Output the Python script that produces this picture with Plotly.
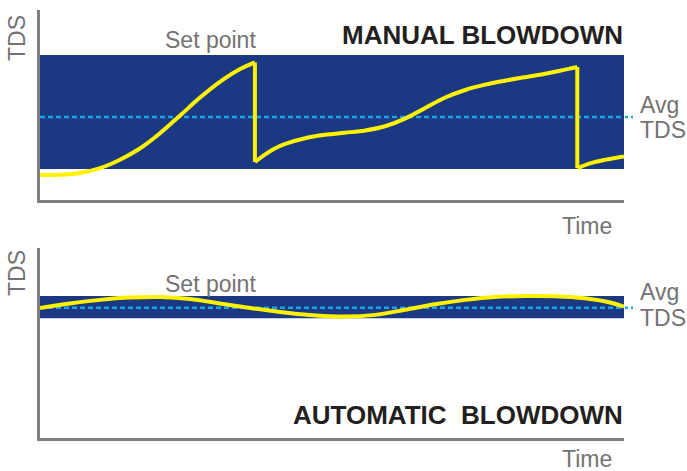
import plotly.graph_objects as go

W, H = 687, 471

# ---------------- data ----------------
# Manual blowdown (top panel): time 0-100, TDS 0-100 (arbitrary units)
manual_seg1_time = [0, 3.4, 6.8, 10.3, 13.7, 17.1, 20.5, 24.0, 27.4, 30.8, 34.2, 36.8]
manual_seg1_tds = [13.2, 13.3, 14.2, 16.8, 21.2, 27.1, 35.0, 44.5, 53.9, 62.2, 68.8, 72.4]
manual_seg2_time = [36.8, 38.5, 40.2, 42.0, 45.4, 48.8, 52.2, 55.7, 59.1, 62.5, 65.9, 69.3, 72.8,
                    76.2, 79.6, 83.0, 86.5, 89.9, 92.0]
manual_seg2_tds = [20.0, 23.9, 27.1, 29.5, 32.5, 34.3, 35.4, 36.6, 38.8, 42.8, 48.3, 53.8, 57.9,
                   60.7, 62.8, 64.6, 66.4, 68.6, 70.0]
manual_seg3_time = [92.0, 94.2, 96.7, 100]
manual_seg3_tds = [16.8, 19.3, 21.1, 22.9]
manual_band = [16.3, 76.3]
manual_avg = 43.7

# Automatic blowdown (bottom panel)
auto_time = [0, 5.1, 10.3, 15.4, 20.5, 25.7, 30.8, 36.0, 41.1, 46.2, 52.2, 57.4, 62.5, 67.6,
             72.8, 77.9, 83.0, 88.2, 93.3, 97.6, 100]
auto_tds = [68.4, 70.8, 72.7, 73.9, 74.2, 73.2, 70.8, 68.4, 66.3, 64.7, 63.9, 64.8, 67.5, 70.4,
            72.7, 74.2, 74.7, 74.6, 73.5, 71.3, 69.1]
auto_band = [63.0, 74.7]
auto_avg = 68.6

YELLOW = "#FFF200"
BLUE = "#1A3982"
DASH = "#1CA3E6"
GRAY = "#737373"
AXIS = "#808080"
DARK = "#231F20"
FONT = "Liberation Sans, Arial, sans-serif"


def px(x):
    return x / W


def py(y):
    return 1 - y / H


fig = go.Figure()

line_style = dict(color=YELLOW, width=4)

# top panel traces
for tx, ty in [(manual_seg1_time, manual_seg1_tds),
               (manual_seg2_time, manual_seg2_tds),
               (manual_seg3_time, manual_seg3_tds)]:
    fig.add_trace(go.Scatter(x=tx, y=ty, mode="lines",
                             line=dict(shape="spline", **line_style),
                             xaxis="x", yaxis="y", showlegend=False, hoverinfo="skip"))
# vertical blowdown drops
drop_x = [manual_seg1_time[-1], manual_seg2_time[0], None, manual_seg2_time[-1], manual_seg3_time[0]]
drop_y = [manual_seg1_tds[-1], manual_seg2_tds[0], None, manual_seg2_tds[-1], manual_seg3_tds[0]]
fig.add_trace(go.Scatter(x=drop_x, y=drop_y, mode="lines", line=dict(**line_style),
                         xaxis="x", yaxis="y", showlegend=False, hoverinfo="skip"))

# bottom panel trace
fig.add_trace(go.Scatter(x=auto_time, y=auto_tds, mode="lines",
                         line=dict(shape="spline", **line_style),
                         xaxis="x2", yaxis="y2", showlegend=False, hoverinfo="skip"))

axis_common = dict(showgrid=False, zeroline=False, showticklabels=False, ticks="",
                   showline=True, linecolor=AXIS, linewidth=3, fixedrange=True)

fig.update_layout(
    width=W, height=H,
    margin=dict(l=0, r=0, t=0, b=0),
    paper_bgcolor="white", plot_bgcolor="white",
    xaxis=dict(domain=[px(40), px(624)], range=[0, 100], anchor="y", **axis_common),
    yaxis=dict(domain=[py(200), py(10)], range=[0, 100], anchor="x", **axis_common),
    xaxis2=dict(domain=[px(40), px(624)], range=[0, 100], anchor="y2", **axis_common),
    yaxis2=dict(domain=[py(438), py(248)], range=[0, 100], anchor="x2", **axis_common),
)

dash_style = dict(color=DASH, width=2.5, dash="5px,3px")
shapes = []
for xr, yr, band, avg in [("x", "y", manual_band, manual_avg), ("x2", "y2", auto_band, auto_avg)]:
    shapes += [
        dict(type="rect", xref=xr, yref=yr, x0=0, x1=100, y0=band[0], y1=band[1],
             fillcolor=BLUE, line=dict(width=0), layer="below"),
        # dashed average line inside the band (under the yellow curve)
        dict(type="line", xref=xr, yref=yr, x0=0, x1=100, y0=avg, y1=avg,
             line=dash_style, layer="below"),
        # short dotted stub poking out to the right of the band
        dict(type="line", xref="paper", yref=yr, x0=px(625), x1=px(633), y0=avg, y1=avg,
             line=dict(color=DASH, width=2.5, dash="3px,3px"), layer="above"),
    ]
fig.update_layout(shapes=shapes)


def ann(text, x, y, size=23, color=GRAY, xanchor="center", bold=False, angle=0):
    t = f"<b>{text}</b>" if bold else text
    return dict(text=t, x=px(x), y=py(y), xref="paper", yref="paper", showarrow=False,
                xanchor=xanchor, yanchor="middle", textangle=angle,
                font=dict(family=FONT, size=size, color=color))


annotations = [
    ann("TDS", 17, 38, angle=-90),
    ann("Set point", 210, 40),
    ann("MANUAL BLOWDOWN", 625, 35, size=26, color=DARK, xanchor="right", bold=True),
    ann("Avg", 638, 105, xanchor="left"),
    ann("TDS", 638, 130, xanchor="left"),
    ann("Time", 587, 226),
    ann("TDS", 17, 273, angle=-90),
    ann("Set point", 210, 284),
    ann("AUTOMATIC&nbsp; BLOWDOWN", 625, 415, size=26, color=DARK, xanchor="right", bold=True),
    ann("Avg", 638, 292, xanchor="left"),
    ann("TDS", 638, 318, xanchor="left"),
    ann("Time", 587, 459),
]
fig.update_layout(annotations=annotations)

fig.write_html("out.html", config={"displayModeBar": False},
               post_script="document.body.style.margin='0';")
